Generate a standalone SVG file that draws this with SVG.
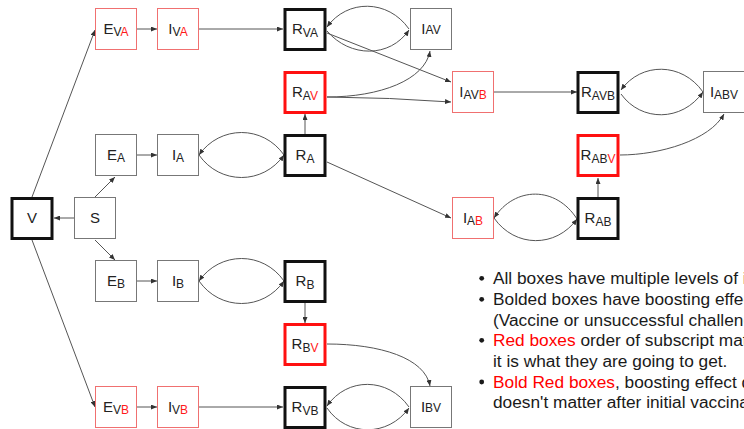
<svg xmlns="http://www.w3.org/2000/svg" width="744" height="429" viewBox="0 0 744 429">
  <style>
    .box { fill: #ffffff; stroke: #777777; stroke-width: 1; }
    .box-red { fill: #ffffff; stroke: #f07070; stroke-width: 1; }
    .bold { fill: #ffffff; stroke: #111111; stroke-width: 3; }
    .bold-red { fill: #ffffff; stroke: #ff1010; stroke-width: 3; }
    .lbl { font-family: "Liberation Sans", Arial, sans-serif; font-size: 15px; fill: #222222; text-anchor: middle; }
    .sub { font-size: 12px; }
    .red { fill: #ff1a1a; }
    .edge { fill: none; stroke: #555555; stroke-width: 1; marker-end: url(#arrow); }
    .note { font-family: "Liberation Sans", Arial, sans-serif; font-size: 17.3px; fill: #1a1a1a; }
    .note .red { fill: #ff0000; }
  </style>
  <defs>
    <marker id="arrow" markerUnits="userSpaceOnUse" markerWidth="6" markerHeight="5" refX="6" refY="2.5" orient="auto">
      <path d="M0,0 L6,2.5 L0,5 z" fill="#333333"/>
    </marker>
  </defs>

  <!-- connectors -->
  <g id="connectors">
    <path class="edge" d="M74,218 L54,218"/>
    <path class="edge" d="M95,197 L115,177"/>
    <path class="edge" d="M95,240 L115,260"/>
    <path class="edge" d="M32,197 L95,30"/>
    <path class="edge" d="M32,240 L95,407"/>
    <path class="edge" d="M137,29 L157,29"/>
    <path class="edge" d="M137,155 L157,155"/>
    <path class="edge" d="M137,281 L157,281"/>
    <path class="edge" d="M137,407 L157,407"/>
    <path class="edge" d="M199,29 L283,29"/>
    <path class="edge" d="M199,407 L283,407"/>
    <!-- I_A / R_A exchange -->
    <path class="edge" d="M284,155 C263,125 220,125 199,155"/>
    <path class="edge" d="M199,155 C220,185 263,185 284,155"/>
    <!-- I_B / R_B exchange -->
    <path class="edge" d="M284,281 C263,251 220,251 199,281"/>
    <path class="edge" d="M199,281 C220,311 263,311 284,281"/>
    <!-- R_VA / I_AV exchange -->
    <path class="edge" d="M409,29 C388,-1 347,-1 327,27"/>
    <path class="edge" d="M327,31 C350,58 390,58 409,30"/>
    <path class="edge" d="M327,33 L451,82"/>
    <path class="edge" d="M327,97 C380,97 425,80 430,51"/>
    <path class="edge" d="M327,97 Q390,97.5 451,102"/>
    <path class="edge" d="M305,134 L305,114"/>
    <path class="edge" d="M327,162 L451,218"/>
    <!-- I_AB / R_AB exchange -->
    <path class="edge" d="M577,219 C556,186 515,186 494,218"/>
    <path class="edge" d="M494,218 C515,248 556,248 577,219"/>
    <path class="edge" d="M598,197 L598,178"/>
    <path class="edge" d="M620,155 C660,155 710,140 724,114"/>
    <path class="edge" d="M494,92 L577,92"/>
    <!-- R_AVB / I_ABV exchange -->
    <path class="edge" d="M703,92 C682,62 641,62 621,90"/>
    <path class="edge" d="M621,94 C641,122 682,122 703,92"/>
    <path class="edge" d="M305,303 L305,323"/>
    <path class="edge" d="M327,344 C380,344 425,358 430,386"/>
    <!-- R_VB / I_BV exchange -->
    <path class="edge" d="M409,407 C388,377 347,377 327,406"/>
    <path class="edge" d="M327,408 C347,437 388,437 409,408"/>
  </g>

  <!-- nodes -->
  <g id="V"><rect class="bold" x="12" y="198.5" width="40" height="40"/><text class="lbl" x="32" y="223">V</text></g>
  <g id="S"><rect class="box" x="74.5" y="197.5" width="41" height="41"/><text class="lbl" x="95" y="222.5">S</text></g>

  <g id="E_VA"><rect class="box-red" x="95.5" y="8.5" width="41" height="41"/><text class="lbl" x="116" y="33.5">E<tspan class="sub" dy="2.7">V</tspan><tspan class="sub red">A</tspan></text></g>
  <g id="I_VA"><rect class="box-red" x="157.5" y="8.5" width="41" height="41"/><text class="lbl" x="178" y="33.5">I<tspan class="sub" dy="2.7">V</tspan><tspan class="sub red">A</tspan></text></g>
  <g id="E_A"><rect class="box" x="95.5" y="134.5" width="41" height="41"/><text class="lbl" x="116" y="159.5">E<tspan class="sub" dy="2.7">A</tspan></text></g>
  <g id="I_A"><rect class="box" x="157.5" y="134.5" width="41" height="41"/><text class="lbl" x="178" y="159.5">I<tspan class="sub" dy="2.7">A</tspan></text></g>
  <g id="E_B"><rect class="box" x="95.5" y="260.5" width="41" height="41"/><text class="lbl" x="116" y="285.5">E<tspan class="sub" dy="2.7">B</tspan></text></g>
  <g id="I_B"><rect class="box" x="157.5" y="260.5" width="41" height="41"/><text class="lbl" x="178" y="285.5">I<tspan class="sub" dy="2.7">B</tspan></text></g>
  <g id="E_VB"><rect class="box-red" x="95.5" y="386.5" width="41" height="41"/><text class="lbl" x="116" y="411.5">E<tspan class="sub" dy="2.7">V</tspan><tspan class="sub red">B</tspan></text></g>
  <g id="I_VB"><rect class="box-red" x="157.5" y="386.5" width="41" height="41"/><text class="lbl" x="178" y="411.5">I<tspan class="sub" dy="2.7">V</tspan><tspan class="sub red">B</tspan></text></g>

  <g id="R_VA"><rect class="bold" x="285" y="9.5" width="40" height="40"/><text class="lbl" x="305" y="34">R<tspan class="sub" dy="2.7">VA</tspan></text></g>
  <g id="R_AV"><rect class="bold-red" x="285" y="72.5" width="40" height="40"/><text class="lbl" x="305" y="97">R<tspan class="sub" dy="2.7">A</tspan><tspan class="sub red">V</tspan></text></g>
  <g id="R_A"><rect class="bold" x="285" y="135.5" width="40" height="40"/><text class="lbl" x="305" y="160">R<tspan class="sub" dy="2.7">A</tspan></text></g>
  <g id="R_B"><rect class="bold" x="285" y="261.5" width="40" height="40"/><text class="lbl" x="305" y="286">R<tspan class="sub" dy="2.7">B</tspan></text></g>
  <g id="R_BV"><rect class="bold-red" x="285" y="324.5" width="40" height="40"/><text class="lbl" x="305" y="349">R<tspan class="sub" dy="2.7">B</tspan><tspan class="sub red">V</tspan></text></g>
  <g id="R_VB"><rect class="bold" x="285" y="387.5" width="40" height="40"/><text class="lbl" x="305" y="412">R<tspan class="sub" dy="2.7">VB</tspan></text></g>

  <g id="I_AV"><rect class="box" x="410.5" y="8.5" width="41" height="41"/><text class="lbl" x="431" y="33.5">I<tspan class="sub">AV</tspan></text></g>
  <g id="I_BV"><rect class="box" x="410.5" y="386.5" width="41" height="41"/><text class="lbl" x="431" y="411.5">I<tspan class="sub">BV</tspan></text></g>

  <g id="I_AVB"><rect class="box-red" x="452.5" y="71.5" width="41" height="41"/><text class="lbl" x="473" y="96.5">I<tspan class="sub" dy="2.7">AV</tspan><tspan class="sub red">B</tspan></text></g>
  <g id="I_AB"><rect class="box-red" x="452.5" y="197.5" width="41" height="41"/><text class="lbl" x="473" y="222.5">I<tspan class="sub" dy="2.7">A</tspan><tspan class="sub red">B</tspan></text></g>

  <g id="R_AVB"><rect class="bold" x="578" y="72.5" width="40" height="40"/><text class="lbl" x="598" y="97">R<tspan class="sub" dy="2.7">AVB</tspan></text></g>
  <g id="R_ABV"><rect class="bold-red" x="578" y="135.5" width="40" height="40"/><text class="lbl" x="598" y="160">R<tspan class="sub" dy="2.7">AB</tspan><tspan class="sub red">V</tspan></text></g>
  <g id="R_AB"><rect class="bold" x="578" y="198.5" width="40" height="40"/><text class="lbl" x="598" y="223">R<tspan class="sub" dy="2.7">AB</tspan></text></g>

  <g id="I_ABV"><rect class="box" x="703.5" y="71.5" width="41" height="41"/><text class="lbl" x="724" y="96.5">I<tspan class="sub" dy="2.7">ABV</tspan></text></g>

  <!-- legend notes -->
  <g id="notes">
    <circle cx="481.7" cy="278.3" r="2.4" fill="#1a1a1a"/>
    <circle cx="481.7" cy="299.3" r="2.4" fill="#1a1a1a"/>
    <circle cx="481.7" cy="340.3" r="2.4" fill="#1a1a1a"/>
    <circle cx="481.7" cy="382" r="2.4" fill="#1a1a1a"/>
    <text class="note" x="493" y="284">All boxes have multiple levels of i</text>
    <text class="note" x="493" y="305">Bolded boxes have boosting effec</text>
    <text class="note" x="493" y="325.5">(Vaccine or unsuccessful challeng</text>
    <text class="note" x="493" y="346"><tspan class="red">Red boxes</tspan> order of subscript matt</text>
    <text class="note" x="493" y="366.7">it is what they are going to get.</text>
    <text class="note" x="493" y="387.7"><tspan class="red">Bold Red boxes</tspan>, boosting effect d</text>
    <text class="note" x="493" y="408.3">doesn't matter after initial vaccinat</text>
  </g>
</svg>
